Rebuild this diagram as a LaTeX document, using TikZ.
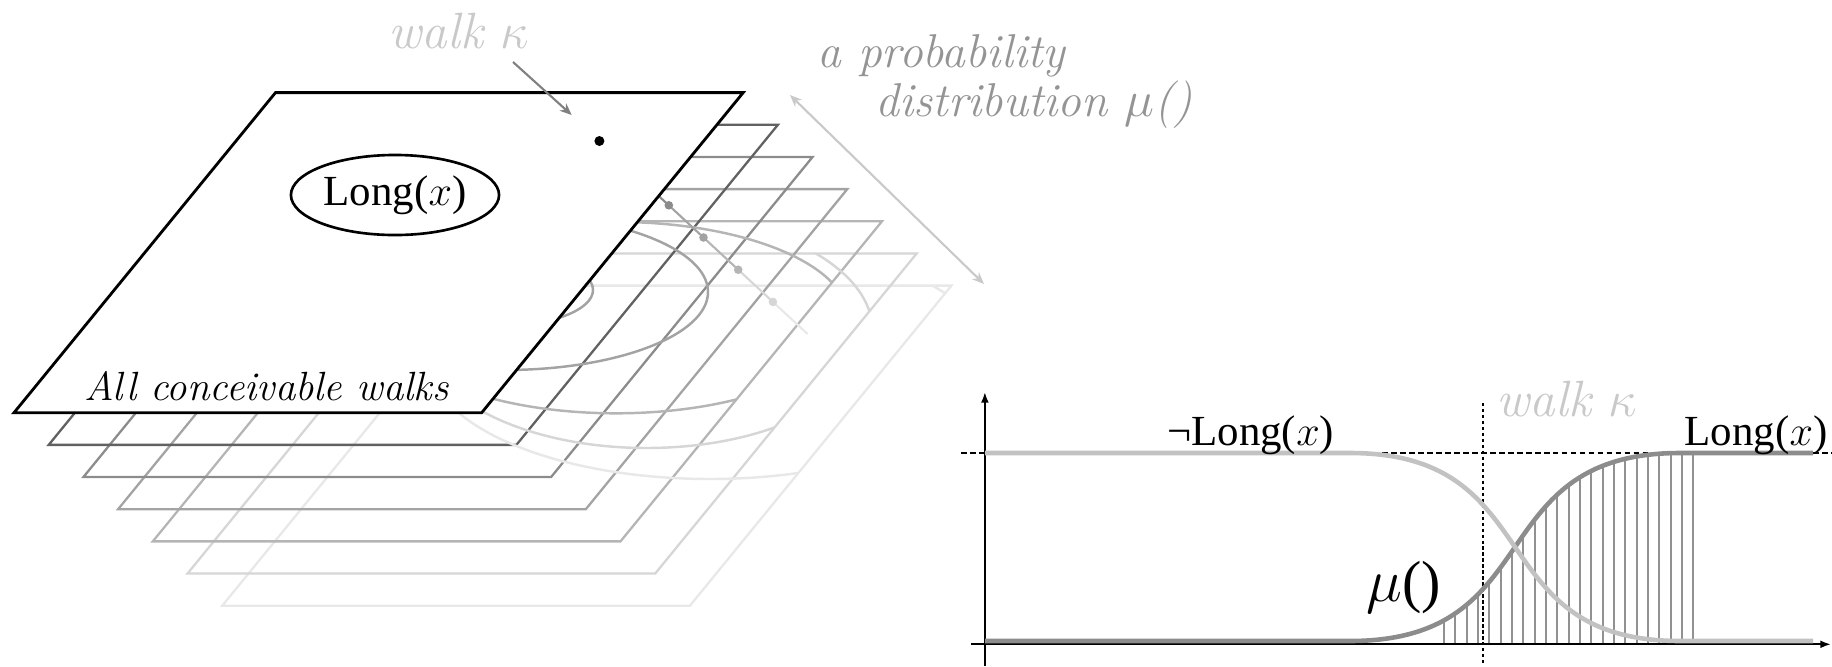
\documentclass[tikz,border=0pt]{standalone}
\usepackage{fontspec}
\setmainfont{Liberation Serif}
\newcommand{\lmit}{\fontfamily{lmr}\fontshape{it}\selectfont}
\usetikzlibrary{arrows.meta,shapes.geometric}
\definecolor{p2}{gray}{0.38}
\definecolor{p3}{gray}{0.55}
\definecolor{p4}{gray}{0.64}
\definecolor{p5}{gray}{0.71}
\definecolor{p6}{gray}{0.84}
\definecolor{p7}{gray}{0.91}
\definecolor{lg}{gray}{0.79}
\definecolor{pdtext}{gray}{0.58}
\definecolor{arrgray}{gray}{0.5}
\definecolor{curvelight}{gray}{0.76}
\definecolor{curvedark}{gray}{0.55}
\definecolor{hatchgray}{gray}{0.57}
\newcommand{\planepath}[1]{({14+34.7*(#1-1)},{412.7+32.17*(#1-1)}) -- ++(467.7,0) -- ++(261.5,-320.1) -- ++(-467.7,0) -- cycle}
\begin{document}
\begin{tikzpicture}[x=0.01cm,y=-0.01cm,
  planeline/.style={line width=0.65pt},
  arcline/.style={line width=0.7pt},
  txt/.style={inner sep=0pt,font=\fontsize{12.2}{14}\selectfont},
  grtxt/.style={inner sep=0pt,font=\fontsize{13.5}{12}\selectfont\lmit},
  tip/.style={-{Stealth[length=3.4pt,width=2.8pt]}},
  axis/.style={line width=0.55pt,-{Latex[length=3pt,width=2.2pt]}},
  thick curve/.style={line width=1.3pt}]
\useasboundingbox (0,0) rectangle (1832,666);

% ---- lower planes (outlines only)
\foreach \k/\c in {7/p7,6/p6,5/p5,4/p4,3/p3,2/p2}{
  \draw[planeline,draw=\c] \planepath{\k};
}

% ---- regions on the lower planes
\begin{scope}\clip \planepath{3};
  \draw[arcline,p4] (500,290) ellipse [x radius=93,y radius=36];
\end{scope}
\begin{scope}\clip \planepath{4};
  \draw[arcline,p4] (505,292) ellipse [x radius=203,y radius=78];
\end{scope}
\begin{scope}\clip \planepath{5};
  \draw[arcline,p5] (616,317.6) ellipse [x radius=232,y radius=95.7];
\end{scope}
\begin{scope}\clip \planepath{6};
  \draw[arcline,p6] (646.6,331) ellipse [x radius=226,y radius=117];
\end{scope}
\begin{scope}\clip \planepath{7};
  \draw[arcline,p7] (710,359) ellipse [x radius=281,y radius=120];
\end{scope}

% ---- walk kappa through the planes
\coordinate (k1) at (599.4,141);
\coordinate (k2) at (634.1,173.2);
\coordinate (k3) at (668.8,205.3);
\coordinate (k4) at (703.5,237.5);
\coordinate (k5) at (738.2,269.7);
\coordinate (k6) at (772.9,301.9);
\coordinate (k7) at (807.6,334);
\draw[line width=0.6pt,p2] (k1) -- (k2);
\draw[line width=0.6pt,p3] (k2) -- (k3);
\draw[line width=0.6pt,p4] (k3) -- (k4);
\draw[line width=0.6pt,p5] (k4) -- (k5);
\draw[line width=0.6pt,p6] (k5) -- (k6);
\draw[line width=0.6pt,p7] (k6) -- (k7);
\fill[p2] (k2) circle[radius=4.3];
\fill[p3] (k3) circle[radius=4.3];
\fill[p4] (k4) circle[radius=4.3];
\fill[p5] (k5) circle[radius=4.3];
\fill[p6] (k6) circle[radius=4.3];

% ---- top plane
\filldraw[fill=white,draw=black,line width=0.8pt] \planepath{1};
\node[draw,ellipse,line width=0.75pt,minimum width=2.08cm,minimum height=0.8cm,txt] (long) at (395,195) {Long($x$)};
\fill[black] (k1) circle[radius=5];
\node[inner sep=0pt,anchor=base west,font=\fontsize{11.6}{14}\selectfont\lmit] (acw) at (84,400) {All conceivable walks};

% ---- labels on the left
\node[grtxt,text=lg,anchor=base,font=\fontsize{14.5}{16}\selectfont\lmit] (wk) at (459,48) {walk $\kappa$};
\coordinate (wkA) at (513,62);
\coordinate (wkB) at (571.7,115);
\draw[tip,arrgray,line width=0.6pt] (wkA) -- (wkB);

\node[grtxt,text=pdtext,anchor=base west,align=left] (pd) at (817,116) {a probability\\\hspace*{0.58cm}distribution $\mu$()};
\coordinate (pdA) at (790,95);
\coordinate (pdB) at (984,284);
\draw[{Stealth[length=3.4pt,width=2.8pt]}-{Stealth[length=3.4pt,width=2.8pt]},lg,line width=0.6pt] (pdA) -- (pdB);

% ---- chart
\coordinate (xl) at (971,644.3);
\coordinate (xr) at (1831,644.3);
\coordinate (yb) at (984.9,666);
\coordinate (yt) at (984.9,392);
\coordinate (dl) at (961,453);
\coordinate (dr) at (1832,453);
\coordinate (vt) at (1483,403);
\coordinate (vb) at (1483,666);

\draw[line width=0.55pt,dash pattern=on 1.6pt off 0.95pt] (dl) -- (dr);
\draw[line width=0.3pt,dash pattern=on 0.95pt off 0.75pt] (vt) -- (vb);

\begin{scope}
  \clip (1350,646) -- (1350,641) .. controls (1550,641) and (1480,453) .. (1680,453) -- (1700,453) -- (1700,646) -- cycle;
  \foreach \i in {0,...,22}{
    \draw[hatchgray,line width=0.6pt] ({1444+11.33*\i},644) -- ({1444+11.33*\i},440);
  }
\end{scope}

\draw[axis] (xl) -- (xr);
\draw[axis] (yb) -- (yt);

\draw[thick curve,curvedark] (985,641) -- (1350,641) .. controls (1550,641) and (1480,453) .. (1680,453) -- (1813,453);
\draw[thick curve,curvelight] (985,453) -- (1350,453) .. controls (1550,453) and (1480,641) .. (1680,641) -- (1813,641);

\node[txt,anchor=base west] (nlong) at (1166.5,445) {¬Long($x$)};
\node[txt,anchor=base west] (rlong) at (1684,445) {Long($x$)};
\node[grtxt,text=lg,anchor=base west,font=\fontsize{14.5}{16}\selectfont\lmit] (wk2) at (1496,416.7) {walk $\kappa$};
\node[inner sep=0pt,anchor=base west,font=\fontsize{16.5}{18}\selectfont] (mu) at (1366,601) {$\mu$()};
\end{tikzpicture}
\end{document}
